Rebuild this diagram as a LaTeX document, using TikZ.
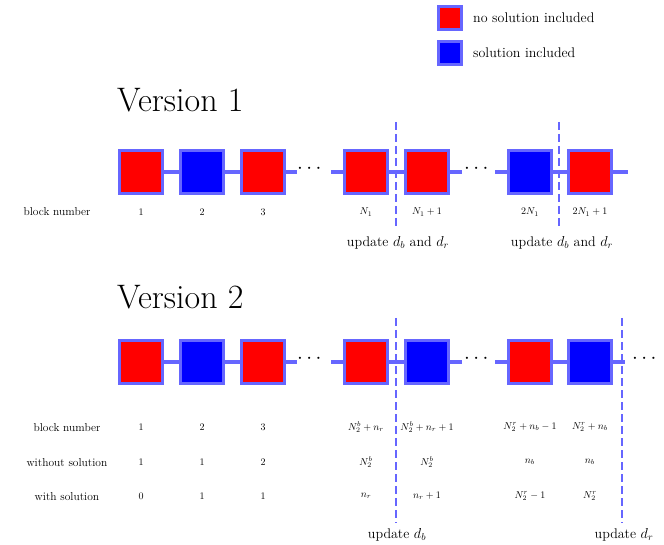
\documentclass[tikz,border=0pt]{standalone}
\usepackage{amsmath}
\begin{document}
\begin{tikzpicture}[x=1pt,y=-1pt,
  bord/.style={draw=blue!60!white, line width=3pt},
  rbox/.style={bord, fill=red, minimum size=43pt, inner sep=0pt},
  bbox/.style={bord, fill=blue, minimum size=43pt, inner sep=0pt},
  lbox/.style={draw=blue!60!white, line width=2.5pt, minimum size=23pt, inner sep=0pt},
  conn/.style={blue!60!white, line width=3.5pt},
  dsh/.style={blue!60!white, line width=2.5pt, dash pattern=on 8pt off 4pt},
  sm/.style={font=\fontsize{10}{11}\selectfont, inner sep=1pt},
  lab/.style={font=\fontsize{11.5}{12}\selectfont, inner sep=1pt},
  up/.style={font=\fontsize{14}{15}\selectfont, inner sep=1pt},
  dots/.style={font=\fontsize{22}{22}\selectfont, inner sep=0pt}]
\useasboundingbox (0,0) rectangle (664,545);
% legend
\node[lbox, fill=red] (lr) at (450,18) {};
\node[lbox, fill=blue] (lb) at (450,53) {};
\node[anchor=west, up] (lrt) at (472,18) {no solution included};
\node[anchor=west, up] (lbt) at (472,53) {solution included};
% Version 1
\node[anchor=west, font=\fontsize{34}{36}\selectfont, inner sep=0pt] (v1) at (117,100) {Version 1};
\def\ya{172}
\node[rbox] (a1) at (141,\ya) {};
\node[bbox] (a2) at (202,\ya) {};
\node[rbox] (a3) at (263,\ya) {};
\node[dots] (ad1) at (311,\ya-3) {$\cdots$};
\node[rbox] (a4) at (366,\ya) {};
\node[rbox] (a5) at (427,\ya) {};
\node[dots] (ad2) at (478,\ya-3) {$\cdots$};
\node[bbox] (a6) at (530,\ya) {};
\node[rbox] (a7) at (590,\ya) {};
\coordinate (aend) at (628,\ya);
\draw[conn] (a1) -- (a2); \draw[conn] (a2) -- (a3);
\draw[conn] (a3.east) -- ++(11,0); \draw[conn] (a4.west) -- ++(-12,0);
\draw[conn] (a4) -- (a5);
\draw[conn] (a5.east) -- ++(12,0); \draw[conn] (a6.west) -- ++(-12,0);
\draw[conn] (a6) -- (a7); \draw[conn] (a7.east) -- (aend);
\node[rbox] at (a4) {}; \node[rbox] at (a5) {}; \node[bbox] at (a6) {}; \node[rbox] at (a7) {};
\coordinate (d1t) at (396,122); \coordinate (d1b) at (396,228);
\coordinate (d2t) at (559,122); \coordinate (d2b) at (559,228);
\draw[dsh] (d1t) -- (d1b); \draw[dsh] (d2t) -- (d2b);
\node[lab] (bn1) at (57,212) {block number};
\node[sm] (l1) at (141,212) {$1$};
\node[sm] (l2) at (202,212) {$2$};
\node[sm] (l3) at (263,212) {$3$};
\node[sm] (l4) at (366,212) {$N_1$};
\node[sm] (l5) at (427,212) {$N_1+1$};
\node[sm] (l6) at (530,212) {$2N_1$};
\node[sm] (l7) at (590,212) {$2N_1+1$};
\node[up] (u1) at (398,243) {update $d_b$ and $d_r$};
\node[up] (u2) at (562,243) {update $d_b$ and $d_r$};
% Version 2
\node[anchor=west, font=\fontsize{34}{36}\selectfont, inner sep=0pt] (v2) at (117,297) {Version 2};
\def\yb{362}
\node[rbox] (b1) at (141,\yb) {};
\node[bbox] (b2) at (202,\yb) {};
\node[rbox] (b3) at (263,\yb) {};
\node[dots] (bd1) at (311,\yb-3) {$\cdots$};
\node[rbox] (b4) at (366,\yb) {};
\node[bbox] (b5) at (427,\yb) {};
\node[dots] (bd2) at (478,\yb-3) {$\cdots$};
\node[rbox] (b6) at (530,\yb) {};
\node[bbox] (b7) at (590,\yb) {};
\node[dots] (bd3) at (646,\yb-3) {$\cdots$};
\draw[conn] (b1) -- (b2); \draw[conn] (b2) -- (b3);
\draw[conn] (b3.east) -- ++(11,0); \draw[conn] (b4.west) -- ++(-12,0);
\draw[conn] (b4) -- (b5);
\draw[conn] (b5.east) -- ++(12,0); \draw[conn] (b6.west) -- ++(-12,0);
\draw[conn] (b6) -- (b7); \draw[conn] (b7.east) -- ++(12,0);
\node[rbox] at (b4) {}; \node[bbox] at (b5) {};
\coordinate (e1t) at (396,318); \coordinate (e1b) at (396,523);
\coordinate (e2t) at (622,318); \coordinate (e2b) at (622,523);
\draw[dsh] (e1t) -- (e1b); \draw[dsh] (e2t) -- (e2b);
\node[lab] (r1) at (67,428) {block number};
\node[lab] (r2) at (67,463) {without solution};
\node[lab] (r3) at (67,497) {with solution};
\foreach \x/\a/\b/\c [count=\i] in {141/1/1/0, 202/2/1/1, 263/3/2/1,
  366/{N_2^b+n_r}/{N_2^b}/{n_r}, 427/{N_2^b+n_r+1}/{N_2^b}/{n_r+1},
  530/{N_2^r+n_b-1}/{n_b}/{N_2^r-1}, 590/{N_2^r+n_b}/{n_b}/{N_2^r}}{
  \node[sm] (p\i) at (\x,427) {$\a$};
  \node[sm] (q\i) at (\x,462) {$\b$};
  \node[sm] (s\i) at (\x,496) {$\c$};
}
\node[up] (u3) at (397,535) {update $d_b$};
\node[up] (u4) at (624,535) {update $d_r$};
\end{tikzpicture}
\end{document}
